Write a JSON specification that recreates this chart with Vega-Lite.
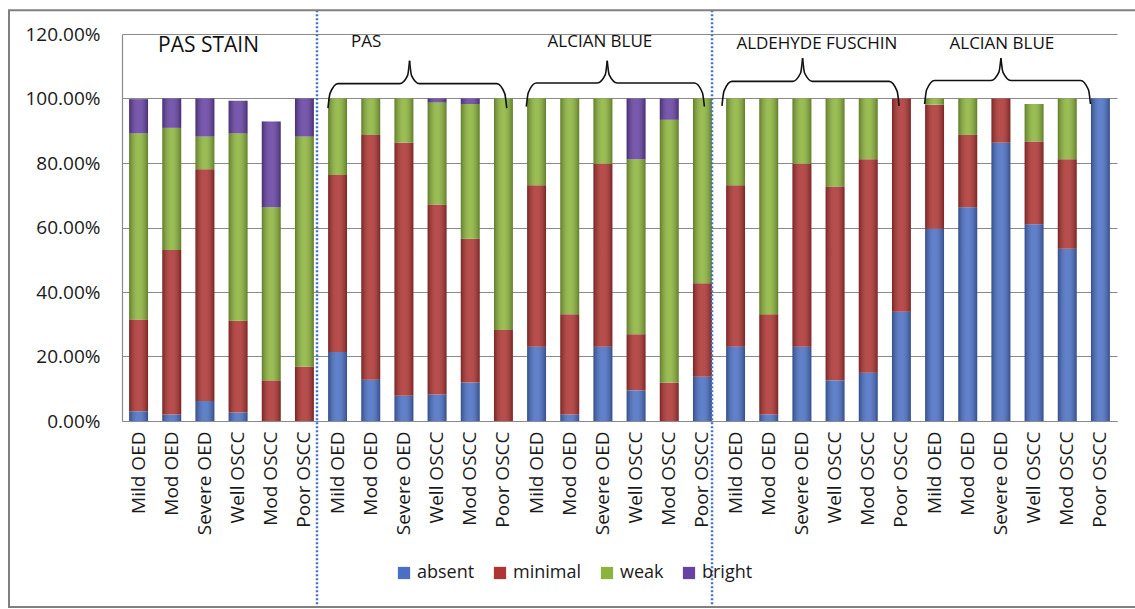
{
  "$schema": "https://vega.github.io/schema/vega-lite/v6.json",
  "width": 995,
  "height": 387,
  "autosize": "none",
  "padding": {"left": 122, "top": 34, "right": 18, "bottom": 188},
  "background": "white",
  "config": {
    "view": {"stroke": null},
    "font": "Open Sans",
    "axis": {"labelFont": "Open Sans", "labelColor": "#1a1a1a"}
  },
  "datasets": {
    "bars": [
      {"bar": "01|Mild OED", "absent": 0.030, "minimal": 0.285, "weak": 0.577, "bright": 0.106},
      {"bar": "02|Mod OED", "absent": 0.020, "minimal": 0.510, "weak": 0.379, "bright": 0.091},
      {"bar": "03|Severe OED", "absent": 0.062, "minimal": 0.719, "weak": 0.101, "bright": 0.118},
      {"bar": "04|Well OSCC", "absent": 0.026, "minimal": 0.285, "weak": 0.581, "bright": 0.101},
      {"bar": "05|Mod OSCC", "absent": 0, "minimal": 0.126, "weak": 0.537, "bright": 0.266},
      {"bar": "06|Poor OSCC", "absent": 0, "minimal": 0.168, "weak": 0.714, "bright": 0.118},
      {"bar": "07|Mild OED", "absent": 0.214, "minimal": 0.549, "weak": 0.237, "bright": 0},
      {"bar": "08|Mod OED", "absent": 0.128, "minimal": 0.759, "weak": 0.113, "bright": 0},
      {"bar": "09|Severe OED", "absent": 0.078, "minimal": 0.785, "weak": 0.137, "bright": 0},
      {"bar": "10|Well OSCC", "absent": 0.082, "minimal": 0.589, "weak": 0.317, "bright": 0.012},
      {"bar": "11|Mod OSCC", "absent": 0.119, "minimal": 0.446, "weak": 0.418, "bright": 0.017},
      {"bar": "12|Poor OSCC", "absent": 0, "minimal": 0.282, "weak": 0.718, "bright": 0},
      {"bar": "13|Mild OED", "absent": 0.230, "minimal": 0.501, "weak": 0.269, "bright": 0},
      {"bar": "14|Mod OED", "absent": 0.020, "minimal": 0.311, "weak": 0.669, "bright": 0},
      {"bar": "15|Severe OED", "absent": 0.230, "minimal": 0.568, "weak": 0.202, "bright": 0},
      {"bar": "16|Well OSCC", "absent": 0.095, "minimal": 0.174, "weak": 0.543, "bright": 0.188},
      {"bar": "17|Mod OSCC", "absent": 0, "minimal": 0.119, "weak": 0.815, "bright": 0.066},
      {"bar": "18|Poor OSCC", "absent": 0.137, "minimal": 0.290, "weak": 0.573, "bright": 0},
      {"bar": "19|Mild OED", "absent": 0.230, "minimal": 0.501, "weak": 0.269, "bright": 0},
      {"bar": "20|Mod OED", "absent": 0.020, "minimal": 0.311, "weak": 0.669, "bright": 0},
      {"bar": "21|Severe OED", "absent": 0.230, "minimal": 0.568, "weak": 0.202, "bright": 0},
      {"bar": "22|Well OSCC", "absent": 0.126, "minimal": 0.601, "weak": 0.273, "bright": 0},
      {"bar": "23|Mod OSCC", "absent": 0.150, "minimal": 0.662, "weak": 0.188, "bright": 0},
      {"bar": "24|Poor OSCC", "absent": 0.339, "minimal": 0.661, "weak": 0, "bright": 0},
      {"bar": "25|Mild OED", "absent": 0.596, "minimal": 0.385, "weak": 0.019, "bright": 0},
      {"bar": "26|Mod OED", "absent": 0.663, "minimal": 0.224, "weak": 0.113, "bright": 0},
      {"bar": "27|Severe OED", "absent": 0.863, "minimal": 0.137, "weak": 0, "bright": 0},
      {"bar": "28|Well OSCC", "absent": 0.610, "minimal": 0.257, "weak": 0.116, "bright": 0},
      {"bar": "29|Mod OSCC", "absent": 0.534, "minimal": 0.278, "weak": 0.188, "bright": 0},
      {"bar": "30|Poor OSCC", "absent": 1.0, "minimal": 0, "weak": 0, "bright": 0}
    ],
    "braces": [
      {"seg": "2L", "x": 6.21, "y": 0.970}, {"seg": "2L", "x": 6.27, "y": 1.015}, {"seg": "2L", "x": 6.51, "y": 1.046}, {"seg": "2L", "x": 8.37, "y": 1.046}, {"seg": "2L", "x": 8.61, "y": 1.071}, {"seg": "2L", "x": 8.67, "y": 1.117},
      {"seg": "2R", "x": 8.67, "y": 1.117}, {"seg": "2R", "x": 8.73, "y": 1.071}, {"seg": "2R", "x": 8.97, "y": 1.046}, {"seg": "2R", "x": 11.30, "y": 1.046}, {"seg": "2R", "x": 11.54, "y": 1.015}, {"seg": "2R", "x": 11.60, "y": 0.970},
      {"seg": "3L", "x": 12.19, "y": 0.975}, {"seg": "3L", "x": 12.25, "y": 1.018}, {"seg": "3L", "x": 12.49, "y": 1.048}, {"seg": "3L", "x": 14.33, "y": 1.048}, {"seg": "3L", "x": 14.57, "y": 1.073}, {"seg": "3L", "x": 14.63, "y": 1.117},
      {"seg": "3R", "x": 14.63, "y": 1.117}, {"seg": "3R", "x": 14.69, "y": 1.073}, {"seg": "3R", "x": 14.93, "y": 1.048}, {"seg": "3R", "x": 17.26, "y": 1.048}, {"seg": "3R", "x": 17.50, "y": 1.018}, {"seg": "3R", "x": 17.56, "y": 0.975},
      {"seg": "4L", "x": 18.09, "y": 0.977}, {"seg": "4L", "x": 18.15, "y": 1.023}, {"seg": "4L", "x": 18.39, "y": 1.053}, {"seg": "4L", "x": 20.22, "y": 1.053}, {"seg": "4L", "x": 20.46, "y": 1.079}, {"seg": "4L", "x": 20.52, "y": 1.125},
      {"seg": "4R", "x": 20.52, "y": 1.125}, {"seg": "4R", "x": 20.58, "y": 1.079}, {"seg": "4R", "x": 20.82, "y": 1.053}, {"seg": "4R", "x": 23.13, "y": 1.053}, {"seg": "4R", "x": 23.37, "y": 1.023}, {"seg": "4R", "x": 23.43, "y": 0.977},
      {"seg": "5L", "x": 24.20, "y": 0.983}, {"seg": "5L", "x": 24.26, "y": 1.027}, {"seg": "5L", "x": 24.50, "y": 1.056}, {"seg": "5L", "x": 26.20, "y": 1.056}, {"seg": "5L", "x": 26.44, "y": 1.082}, {"seg": "5L", "x": 26.50, "y": 1.125},
      {"seg": "5R", "x": 26.50, "y": 1.125}, {"seg": "5R", "x": 26.56, "y": 1.082}, {"seg": "5R", "x": 26.80, "y": 1.056}, {"seg": "5R", "x": 28.90, "y": 1.056}, {"seg": "5R", "x": 29.14, "y": 1.027}, {"seg": "5R", "x": 29.20, "y": 0.983}
    ],
    "labels": [
      {"t": "PAS", "x": 7.36, "y": 1.160},
      {"t": "ALCIAN BLUE", "x": 14.41, "y": 1.160},
      {"t": "ALDEHYDE FUSCHIN", "x": 20.95, "y": 1.153},
      {"t": "ALCIAN BLUE", "x": 26.53, "y": 1.153}
    ],
    "dividers": [{"x": 5.88}, {"x": 17.79}]
  },
  "layer": [
    {
      "data": {"name": "bars"},
      "transform": [
        {"fold": ["absent", "minimal", "weak", "bright"], "as": ["level", "v"]},
        {"filter": "datum.v > 0"},
        {"calculate": "indexof(['absent','minimal','weak','bright'], datum.level)", "as": "ord"}
      ],
      "encoding": {
        "x": {
          "field": "bar", "type": "nominal", "sort": null,
          "scale": {"paddingInner": 0.43, "paddingOuter": 0.215},
          "axis": {
            "title": null, "labelExpr": "split(datum.label, '|')[1]",
            "labelAngle": -90, "labelFontSize": 19, "labelPadding": 10,
            "ticks": false, "domainColor": "#8a8a8a", "domainWidth": 1.2, "grid": false
          }
        },
        "y": {
          "field": "v", "type": "quantitative", "stack": "zero",
          "scale": {"domain": [0, 1.2], "nice": false},
          "axis": {
            "title": null, "values": [0, 0.2, 0.4, 0.6, 0.8, 1.0, 1.2], "format": ".2%",
            "labelFontSize": 19, "labelPadding": 22, "ticks": false,
            "grid": true, "gridColor": "#8a8a8a", "gridWidth": 1,
            "domainColor": "#8a8a8a", "domainWidth": 1.2
          }
        },
        "order": {"field": "ord", "type": "quantitative"}
      },
      "layer": [
        {
          "mark": {"type": "bar"},
          "encoding": {
            "color": {
              "field": "level", "type": "nominal",
              "scale": {"domain": ["absent", "minimal", "weak", "bright"], "range": ["#4A6FC4", "#AE3533", "#8CB43C", "#6642A3"]},
              "legend": {
                "title": null, "orient": "none", "legendX": 273, "legendY": 530,
                "direction": "horizontal", "symbolType": "square", "symbolSize": 150,
                "symbolStrokeWidth": 0, "labelFont": "Open Sans", "labelFontSize": 18,
                "labelColor": "#1a1a1a", "labelOffset": 4, "columnPadding": 16, "padding": 0
              }
            }
          }
        },
        {
          "mark": {
            "type": "bar",
            "color": {
              "gradient": "linear", "x1": 0, "y1": 0, "x2": 1, "y2": 0,
              "stops": [
                {"offset": 0, "color": "rgba(0,0,0,0.3)"},
                {"offset": 0.45, "color": "rgba(255,255,255,0.12)"},
                {"offset": 0.55, "color": "rgba(255,255,255,0.12)"},
                {"offset": 1, "color": "rgba(0,0,0,0.3)"}
              ]
            }
          },
          "encoding": {"detail": {"field": "level"}}
        }
      ]
    },
    {
      "layer": [
        {
          "data": {"name": "braces"},
          "mark": {"type": "line", "interpolate": "monotone", "color": "#111111", "strokeWidth": 1.6},
          "encoding": {
            "x": {"field": "x", "type": "quantitative", "scale": {"domain": [0, 30], "nice": false, "zero": false}, "axis": null},
            "y": {"field": "y", "type": "quantitative", "scale": {"domain": [0, 1.2], "nice": false}},
            "detail": {"field": "seg"}
          }
        },
        {
          "data": {"name": "labels"},
          "mark": {"type": "text", "font": "Open Sans", "fontSize": 17, "align": "center", "baseline": "alphabetic", "color": "#111111"},
          "encoding": {
            "x": {"field": "x", "type": "quantitative", "scale": {"domain": [0, 30], "nice": false, "zero": false}, "axis": null},
            "y": {"field": "y", "type": "quantitative", "scale": {"domain": [0, 1.2], "nice": false}},
            "text": {"field": "t"}
          }
        },
        {
          "data": {"values": [{}]},
          "mark": {"type": "text", "font": "Open Sans", "fontSize": 21, "align": "center", "baseline": "alphabetic", "color": "#111111"},
          "encoding": {
            "x": {"datum": 2.61, "type": "quantitative", "scale": {"domain": [0, 30], "nice": false, "zero": false}, "axis": null},
            "y": {"datum": 1.144, "type": "quantitative", "scale": {"domain": [0, 1.2], "nice": false}},
            "text": {"datum": "PAS STAIN"}
          }
        },
        {
          "data": {"name": "dividers"},
          "mark": {"type": "rule", "color": "#4472C4", "strokeWidth": 2.5, "strokeDash": [2, 2]},
          "encoding": {
            "x": {"field": "x", "type": "quantitative", "scale": {"domain": [0, 30], "nice": false, "zero": false}, "axis": null},
            "y": {"datum": 1.274, "type": "quantitative", "scale": {"domain": [0, 1.2], "nice": false}},
            "y2": {"datum": -0.577}
          }
        },
        {
          "data": {"values": [{}]},
          "mark": {"type": "rect", "filled": false, "stroke": "#808080", "strokeWidth": 2},
          "encoding": {
            "x": {"datum": -3.407, "type": "quantitative", "scale": {"domain": [0, 30], "nice": false, "zero": false}, "axis": null},
            "x2": {"datum": 31.5},
            "y": {"datum": 1.274, "type": "quantitative", "scale": {"domain": [0, 1.2], "nice": false}},
            "y2": {"datum": -0.577}
          }
        }
      ]
    }
  ],
  "resolve": {"scale": {"x": "independent"}}
}
